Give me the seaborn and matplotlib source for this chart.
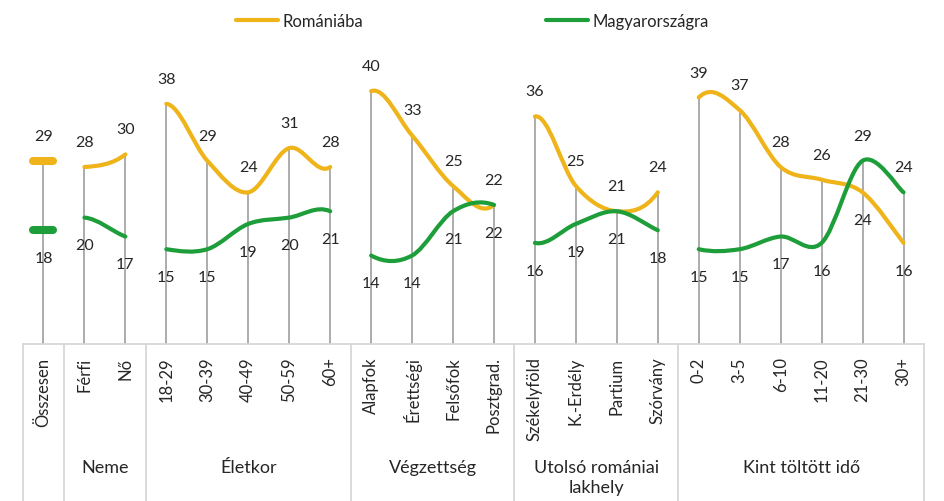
import numpy as np
import pandas as pd
import matplotlib.pyplot as plt
import seaborn as sns
from matplotlib.path import Path
from matplotlib.patches import PathPatch
from matplotlib.markers import MarkerStyle
from matplotlib.lines import Line2D

# Adatok
kategoriak = ["Összesen", "Férfi", "Nő", "18-29", "30-39", "40-49", "50-59", "60+",
              "Alapfok", "Érettségi", "Felsőfok", "Posztgrad.",
              "Székelyföld", "K.-Erdély", "Partium", "Szórvány",
              "0-2", "3-5", "6-10", "11-20", "21-30", "30+"]
csoportok = ["", "Neme", "Életkor", "Végzettség", "Utolsó romániai\nlakhely", "Kint töltött idő"]
csoport_meret = [1, 2, 5, 4, 4, 6]
romaniaba = [29, 28, 30, 38, 29, 24, 31, 28, 40, 33, 25, 22, 36, 25, 21, 24, 39, 37, 28, 26, 24, 16]
magyarorszagra = [18, 20, 17, 15, 15, 19, 20, 21, 14, 14, 21, 22, 16, 19, 21, 18, 15, 15, 17, 16, 29, 24]

SARGA = "#EEB41A"
ZOLD = "#1E9E3A"
SZURKE = "#A6A6A6"
TENGELY = "#D4D4D4"
SZOVEG = "#262626"

df = pd.DataFrame({"kategoria": kategoriak, "Romániába": romaniaba, "Magyarországra": magyarorszagra})
df["x"] = np.arange(len(df))


def sima_gorbe(xs, ys, tol, ig):
    """Excel-szerű simított vonal (Catmull-Rom Bezier) a tol..ig pontokra."""
    p = np.column_stack([xs, ys]).astype(float)
    n = len(p)
    verts = [p[tol]]
    codes = [Path.MOVETO]
    for i in range(tol, ig):
        p0 = p[i - 1] if i > 0 else p[i]
        p3 = p[i + 2] if i + 2 < n else p[i + 1]
        verts += [p[i] + (p[i + 1] - p0) / 6, p[i + 1] - (p3 - p[i]) / 6, p[i + 1]]
        codes += [Path.CURVE4] * 3
    return Path(verts, codes)


sns.set_theme(style="white")
plt.rcParams["font.family"] = ["Lato", "DejaVu Sans"]

fig = plt.figure(figsize=(9.45, 5.02), dpi=100)
ax = fig.add_axes([23 / 945, 1 - 345 / 502, 901 / 945, (345 - 29) / 502])
ax.set_xlim(-0.5, len(df) - 0.5)
ax.set_ylim(0, 50)

# Függőleges segédvonalak
ax.vlines(df["x"], 0, df[["Romániába", "Magyarországra"]].max(axis=1),
          color=SZURKE, lw=1.3, zorder=1)

# Simított vonalak csoportonként
hatarok = np.concatenate([[0], np.cumsum(csoport_meret)])
for oszlop, szin in [("Romániába", SARGA), ("Magyarországra", ZOLD)]:
    for a, b in zip(hatarok[:-1], hatarok[1:]):
        if b - a > 1:
            ut = sima_gorbe(df["x"], df[oszlop], a, b - 1)
            ax.add_patch(PathPatch(ut, facecolor="none", edgecolor=szin, lw=3,
                                   capstyle="round", zorder=3))
        else:
            ax.plot(df["x"][a:b], df[oszlop][a:b], ls="none",
                    marker=MarkerStyle("_", capstyle="round"), ms=14.5, mew=5.8,
                    color=szin, zorder=3)

# Adatcímkék: a nagyobb érték fölé, a kisebb alá
for _, sor in df.iterrows():
    r, m = sor["Romániába"], sor["Magyarországra"]
    fent, lent = (r, m) if r >= m else (m, r)
    ax.annotate(f"{fent}", (sor["x"], fent), xytext=(0, 18), textcoords="offset points",
                ha="center", va="center", fontsize=11.5, color=SZOVEG)
    ax.annotate(f"{lent}", (sor["x"], lent), xytext=(0, -20), textcoords="offset points",
                ha="center", va="center", fontsize=11.5, color=SZOVEG)

# Tengely
ax.set_xticks(df["x"])
ax.set_xticklabels(kategoriak, rotation=90, fontsize=12, color=SZOVEG)
ax.tick_params(axis="x", length=0, pad=9)
ax.set_yticks([])
sns.despine(ax=ax, left=True)
ax.spines["bottom"].set_color(TENGELY)
ax.spines["bottom"].set_linewidth(1.2)

# Csoportok elválasztói és címkéi
trans = ax.get_xaxis_transform()
for h in hatarok:
    ax.plot([h - 0.5, h - 0.5], [0, -0.52], transform=trans, color=TENGELY, lw=1.2, clip_on=False)
for nev, a, b in zip(csoportok, hatarok[:-1], hatarok[1:]):
    if nev:
        ax.text((a + b - 1) / 2, -0.364, nev, transform=trans, ha="center", va="top",
                fontsize=13, color=SZOVEG, linespacing=1.3,
                family=["Liberation Sans Narrow", "Lato"])

# Jelmagyarázat
kezelok = [Line2D([], [], color=SARGA, lw=3, solid_capstyle="round"),
           Line2D([], [], color=ZOLD, lw=3, solid_capstyle="round")]
fig.legend(kezelok, ["Romániába", "Magyarországra"], loc="center",
           bbox_to_anchor=(0.5, 1 - 22 / 502), ncol=2, frameon=False, fontsize=12,
           handlelength=2.5, handletextpad=0.25, columnspacing=11, labelcolor=SZOVEG)

fig.savefig("out.png", dpi=100)
